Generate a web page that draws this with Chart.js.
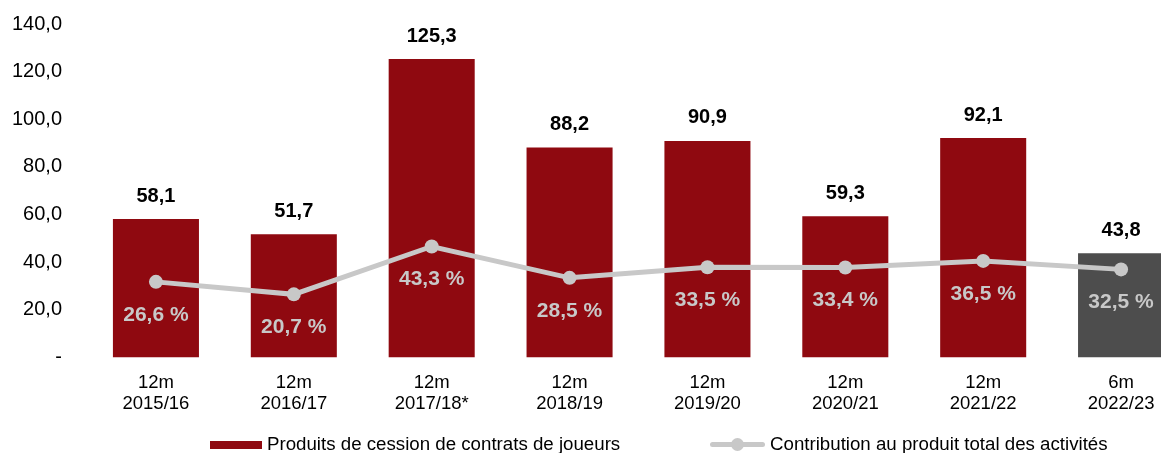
<!DOCTYPE html>
<html>
<head>
<meta charset="utf-8">
<script src="https://cdn.jsdelivr.net/npm/chart.js@4"></script>
<style>
  body { margin: 0; overflow: hidden; background: #fff; font-family: Arial, "Liberation Sans", sans-serif; }
  #wrap { position: relative; width: 1197px; height: 453px; }
  .leg { position: absolute; top: 434px; height: 20px; font-size: 18.7px; line-height: 20px; color: #000; white-space: nowrap; }
  .box { position: absolute; left: 0; top: 7px; width: 52px; height: 8px; background: #8f0910; }
  .ln { position: absolute; left: 0; top: 8px; width: 55px; height: 5px; background: #c8c8c8; border-radius: 3px; }
  .dot { position: absolute; left: 21px; top: 4px; width: 13px; height: 13px; border-radius: 50%; background: #c8c8c8; }
</style>
</head>
<body>
<div id="wrap">
  <canvas id="chart" width="1197" height="453"></canvas>
  <div class="leg" style="left:210px"><span class="box"></span><span style="margin-left:57px">Produits de cession de contrats de joueurs</span></div>
  <div class="leg" style="left:710px"><span class="ln"></span><span class="dot"></span><span style="margin-left:60px">Contribution au produit total des activités</span></div>
</div>
<script>
const periodes = [['12m', '2015/16'], ['12m', '2016/17'], ['12m', '2017/18*'], ['12m', '2018/19'],
                  ['12m', '2019/20'], ['12m', '2020/21'], ['12m', '2021/22'], ['6m', '2022/23']];
const produits = [58.1, 51.7, 125.3, 88.2, 90.9, 59.3, 92.1, 43.8];
const contribution = [26.6, 20.7, 43.3, 28.5, 33.5, 33.4, 36.5, 32.5];

const rouge = '#8f0910';
const gris = '#c8c8c8';

// virgule décimale
const fmt = v => v.toFixed(1).replace('.', ',');

// étiquettes au-dessus des barres et sous les points
const etiquettes = {
    id: 'etiquettes',
    afterDatasetsDraw(chart) {
        const ctx = chart.ctx;
        ctx.save();
        ctx.textAlign = 'center';
        ctx.textBaseline = 'middle';
        chart.getDatasetMeta(1).data.forEach((bar, i) => {
            ctx.font = 'bold 20px Arial, "Liberation Sans"';
            ctx.fillStyle = '#000';
            ctx.fillText(fmt(produits[i]), bar.x, bar.y - 23);
        });
        chart.getDatasetMeta(0).data.forEach((pt, i) => {
            ctx.font = 'bold 21px Arial, "Liberation Sans"';
            ctx.fillStyle = gris;
            ctx.fillText(fmt(contribution[i]) + ' %', pt.x, pt.y + 33);
        });
        ctx.restore();
    }
};

new Chart(document.getElementById('chart'), {
    data: {
        labels: periodes,
        datasets: [{
            type: 'line',
            label: 'Contribution au produit total des activités',
            data: contribution,
            yAxisID: 'y2',
            borderColor: gris,
            backgroundColor: gris,
            borderWidth: 5,
            pointRadius: 7,
            pointBackgroundColor: gris,
            pointBorderWidth: 0,
            tension: 0,
            order: 0
        }, {
            type: 'bar',
            label: 'Produits de cession de contrats de joueurs',
            data: produits,
            yAxisID: 'y',
            backgroundColor: produits.map((v, i) => i === produits.length - 1 ? '#4d4d4d' : rouge),
            categoryPercentage: 1,
            barPercentage: 0.624,
            order: 1
        }]
    },
    options: {
        responsive: false,
        animation: false,
        layout: { padding: { top: 24, left: 0, right: 0, bottom: 31 } },
        plugins: {
            legend: { display: false },
            tooltip: { enabled: false }
        },
        scales: {
            x: {
                grid: { display: false },
                border: { display: false },
                ticks: {
                    color: '#000',
                    padding: 7,
                    maxRotation: 0,
                    font: { family: 'Arial, "Liberation Sans"', size: 18.5, lineHeight: 1.15 }
                }
            },
            y: {
                min: 0,
                max: 140,
                grid: { display: false },
                border: { display: false },
                afterFit: s => { s.width = 87; s.paddingTop = 0; s.paddingBottom = 0; },
                ticks: {
                    stepSize: 20,
                    padding: 17,
                    color: '#000',
                    font: { family: 'Arial, "Liberation Sans"', size: 20 },
                    callback: v => v === 0 ? '-' : fmt(v)
                }
            },
            y2: {
                display: false,
                min: -9.1,
                max: 148.4
            }
        }
    },
    plugins: [etiquettes]
});
</script>
</body>
</html>
